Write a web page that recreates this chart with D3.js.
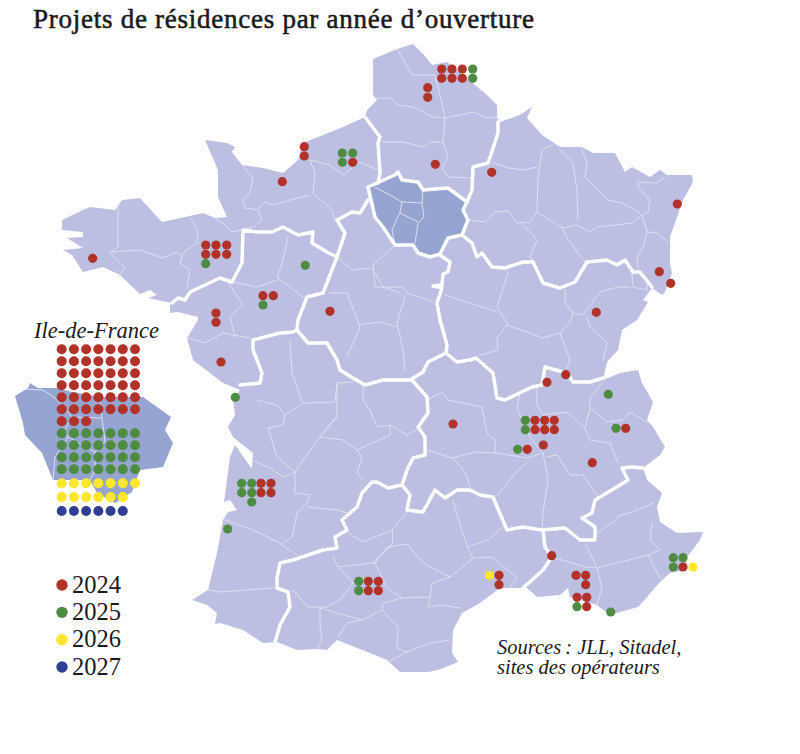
<!DOCTYPE html>
<html>
<head>
<meta charset="utf-8">
<script src="https://cdn.jsdelivr.net/npm/d3@7"></script>
<style>
body { margin: 0; background: #fff; }
text { fill: #1a1a1a; }
</style>
</head>
<body>
<script>
// Values. Map geometry and project points are in map units
var mapDomainX = [0, 800];
var mapDomainY = [0, 754];

var years = ['2024', '2025', '2026', '2027'];
var yearColors = ['#b13228', '#4e8c42', '#fde72e', '#2f3f96'];

// number of projects in Ile-de-France per year
var idfCounts = [45, 28, 13, 6];
var idfColumns = 7;

var points2024 = [[441.7,69],[452,69],[462.3,69],[441.7,78.3],[452,78.3],[462.3,78.3],[427.7,87.7],[427.7,97.3],[435.3,164.3],[491.7,172.3],[677.3,204],[659.3,271.7],[670.7,283.3],[596.3,312.3],[304.3,146.7],[304.3,156],[352.7,162.3],[282.3,181.7],[92.7,258.3],[205.7,245],[216,245],[226.7,245],[205.7,254.3],[216,254.3],[226.7,254.3],[263,295.7],[273.3,295.7],[216,313],[216,322.3],[330,311.3],[221,362],[261,483.3],[271,483.3],[261,492.7],[271,492.7],[368.3,581.3],[378.3,581.3],[368.3,590.7],[378.3,590.7],[453,424],[547,382.3],[565.7,374.7],[625.7,428.3],[535,420.3],[544.7,420.3],[554.3,420.3],[535,429.7],[544.7,429.7],[554.3,429.7],[543.3,445],[527.3,449.3],[592.3,462.7],[499,575.3],[499,584.7],[551.7,555.7],[576,575.3],[585.7,575.3],[585.7,584.7],[577,597.3],[586.7,597.3],[586.7,606.7],[683,567]];
var points2025 = [[472.7,69],[472.7,78.3],[342.3,153],[352.7,153],[342.3,162.3],[205.7,263.7],[305.3,265.3],[263,305],[235.3,397.3],[241.7,483.3],[251.7,483.3],[241.7,492.7],[251.7,492.7],[251.7,502],[227.7,529],[358.7,581.3],[358.7,590.7],[608.3,394.3],[616,428.3],[525.3,420.3],[525.3,429.7],[517.7,449.3],[577,606.7],[610.7,612],[673.3,557.7],[683,557.7],[673.3,567]];
var points2026 = [[489.3,575.3],[693,567]];

var franceOutline = [[373,59],[397,49],[413,44],[423,54],[432,65],[447,62],[475,85],[487,95],[497,105],[497,118],[500,122],[520,115],[532,107],[527,118],[542,135],[560,147],[582,147],[593,153],[615,153],[625,172],[632,167],[650,177],[660,170],[667,175],[692,175],[693,182],[683,200],[677,217],[670,237],[670,263],[672,273],[665,292],[662,295],[652,288],[643,300],[648,302],[637,320],[622,330],[618,350],[607,362],[603,380],[620,373],[638,370],[642,383],[653,402],[647,420],[653,427],[665,447],[660,455],[643,468],[647,480],[662,493],[657,507],[660,522],[677,533],[703,532],[700,540],[687,557],[685,570],[670,573],[660,582],[647,597],[638,607],[610,615],[597,605],[570,597],[568,588],[560,595],[537,597],[527,588],[500,588],[480,603],[462,613],[453,630],[452,653],[458,662],[438,670],[428,672],[400,672],[387,660],[370,653],[337,640],[327,650],[317,649],[297,650],[277,642],[263,643],[243,630],[220,623],[215,624],[217,613],[207,605],[192,600],[208,590],[217,553],[223,520],[228,512],[237,510],[230,500],[224,502],[230,457],[235,445],[252,469],[253,453],[233,437],[228,427],[235,415],[233,400],[240,390],[223,383],[193,360],[187,338],[198,320],[198,317],[178,312],[170,313],[170,305],[172,303],[148,298],[157,295],[150,290],[140,294],[120,275],[103,267],[83,272],[72,255],[63,250],[83,248],[67,238],[83,237],[83,232],[62,230],[62,220],[83,210],[90,207],[115,210],[122,200],[140,198],[162,222],[190,216],[203,213],[215,218],[227,217],[218,197],[218,170],[205,140],[227,143],[235,147],[232,152],[242,165],[263,168],[283,173],[298,160],[303,143],[343,127],[365,117],[367,110],[377,100],[373,95]];

var idfOutline = [[368,187],[395,175],[398,172],[402,180],[418,182],[423,190],[448,188],[467,202],[463,210],[468,220],[462,235],[448,238],[440,254],[430,257],[418,253],[413,245],[395,245],[383,227],[375,217]];

var regionBorders = [
  [[365,117],[380,137],[378,143],[380,173],[378,183]],
  [[498,122],[498,133],[488,163],[473,167],[472,190],[467,202]],
  [[462,235],[472,243],[477,257],[482,253],[492,267],[505,268],[523,262],[533,262],[543,283],[560,288],[575,282],[587,262],[607,260],[617,265],[625,260],[633,272],[640,272],[652,287]],
  [[440,255],[450,262],[448,272],[443,274],[442,285],[433,286],[442,288],[437,303],[440,320],[447,345],[446,353]],
  [[446,353],[457,362],[470,360],[476,358],[493,373],[497,398],[505,400],[532,387],[542,385],[545,367],[567,373],[573,382],[590,382],[603,378]],
  [[446,353],[428,362],[423,372],[410,380],[383,380],[365,385],[353,378],[340,370],[337,360],[327,343],[308,343],[297,330]],
  [[297,330],[298,320],[307,297],[323,293],[337,257],[327,252],[312,243],[313,232],[298,235],[283,227],[272,232],[258,232],[243,230],[242,263],[232,282],[220,278],[190,292],[185,300],[178,298],[172,303]],
  [[337,257],[345,233],[337,220],[352,212],[360,213],[368,200]],
  [[240,385],[260,383],[262,373],[253,350],[253,340],[280,333],[293,332],[297,330]],
  [[275,642],[280,625],[290,607],[288,592],[277,588],[277,578],[280,563],[293,560],[323,550],[337,548],[335,537],[347,530],[342,520],[357,507],[362,493],[372,482],[377,482],[388,488],[402,485],[410,495],[407,510]],
  [[402,485],[407,470],[413,458],[425,455],[425,437],[418,427],[428,413],[427,397],[412,380]],
  [[407,510],[423,512],[435,490],[445,498],[457,490],[470,490],[480,495],[493,497],[507,530],[523,527],[542,530],[565,528],[580,540],[595,540],[595,527],[582,518],[592,513],[595,500],[620,485],[628,480],[622,468],[632,467],[643,468]],
  [[543,530],[545,547],[552,557],[543,570],[523,588]]
];

var deptBorders = [
  [[397,49],[412,75],[435,75],[442,103],[445,118]],
  [[373,98],[390,98],[398,105],[413,107],[433,117],[445,118]],
  [[445,118],[473,112],[487,118],[497,117]],
  [[382,142],[403,142],[423,147],[430,142],[443,142]],
  [[445,118],[443,142],[448,158],[442,168],[448,177],[472,178]],
  [[492,162],[508,168],[523,170],[537,167]],
  [[552,145],[542,150],[538,177],[537,212]],
  [[560,150],[573,163],[577,190],[578,220]],
  [[582,150],[587,163],[585,177],[608,200],[622,203],[640,213]],
  [[638,182],[657,183],[665,177]],
  [[638,182],[638,187],[650,200],[648,212],[642,215]],
  [[562,228],[577,225],[590,232],[597,227],[632,223],[642,215],[647,232]],
  [[647,232],[657,233],[668,242]],
  [[647,232],[643,247],[637,257],[638,268]],
  [[632,273],[637,271],[647,282],[647,290],[633,287],[632,273]],
  [[467,220],[485,222],[495,212],[508,211],[517,223],[530,222],[537,212],[562,228],[567,238],[585,262]],
  [[523,225],[537,240],[530,257],[535,262]],
  [[445,295],[470,303],[497,312]],
  [[508,273],[497,307],[508,325]],
  [[565,290],[565,303],[573,313],[570,322],[560,333],[543,338],[527,332],[507,325],[497,338],[498,350],[480,355]],
  [[573,313],[583,315],[600,292],[618,287],[630,287]],
  [[587,318],[590,327],[607,343],[603,360]],
  [[560,333],[570,360],[567,368]],
  [[395,245],[373,265],[375,287],[403,287],[407,293],[433,302]],
  [[405,297],[397,323],[403,350],[405,370]],
  [[337,257],[352,270],[370,268],[375,273],[383,287],[400,293]],
  [[330,293],[347,293],[360,327],[347,357]],
  [[358,325],[380,322],[397,327]],
  [[118,207],[118,247],[110,253],[125,268],[118,277]],
  [[112,252],[140,250],[163,258],[177,252],[182,257]],
  [[190,218],[198,230],[197,243],[183,253],[180,263],[190,270],[187,287]],
  [[242,165],[253,178],[250,193],[242,200],[245,208],[258,210],[262,220],[253,227],[232,232],[225,225],[215,218]],
  [[258,210],[265,202],[273,205],[290,200],[310,195]],
  [[310,160],[315,173],[313,193],[332,210],[335,220]],
  [[310,160],[330,165],[343,175],[360,162],[378,170]],
  [[288,237],[283,260],[277,278],[290,287],[303,297]],
  [[233,282],[257,287],[277,280]],
  [[228,283],[243,305],[230,317],[235,337]],
  [[188,338],[205,343],[223,333],[250,338]],
  [[290,340],[292,373],[303,403]],
  [[257,400],[277,405],[285,415],[303,403],[335,402],[337,383],[353,382]],
  [[285,415],[283,425],[268,428],[277,457],[295,472]],
  [[335,418],[320,437],[308,453],[295,472]],
  [[252,460],[270,468],[283,477],[295,472]],
  [[295,472],[295,493],[310,495],[307,503],[297,513],[292,537],[283,543]],
  [[225,520],[253,530],[278,542],[297,555]],
  [[308,507],[337,510],[347,513]],
  [[320,437],[343,440],[357,450],[362,458],[357,473],[363,480]],
  [[363,385],[363,400],[370,410],[377,427],[390,425],[390,435],[357,450]],
  [[390,425],[407,435],[420,428]],
  [[337,383],[337,417],[320,437]],
  [[208,590],[220,592],[247,590],[273,588]],
  [[348,533],[363,542],[392,530],[393,543],[373,563]],
  [[333,557],[338,567],[373,563]],
  [[338,567],[353,583]],
  [[293,590],[308,607],[327,607],[340,600],[353,583]],
  [[375,563],[387,588],[402,598]],
  [[375,563],[387,547],[407,544],[423,563],[450,577]],
  [[392,530],[407,512]],
  [[402,598],[430,597],[432,583],[450,577]],
  [[382,610],[383,603],[402,598]],
  [[382,610],[362,620],[347,623],[338,637]],
  [[382,610],[398,627],[397,648],[407,652],[388,662]],
  [[407,652],[430,643],[450,640]],
  [[320,608],[320,627],[322,640],[317,649]],
  [[320,608],[362,620]],
  [[430,597],[428,607],[440,605],[460,608]],
  [[427,400],[442,392],[448,400],[482,407],[487,433],[495,440],[495,453]],
  [[428,450],[452,458],[475,452],[497,453],[527,458],[543,453]],
  [[452,458],[465,472],[470,487]],
  [[527,462],[515,473],[498,495]],
  [[543,453],[548,480],[543,513],[542,530]],
  [[547,457],[557,455],[570,475],[583,475],[598,497]],
  [[520,393],[517,408],[522,420],[530,437],[543,453]],
  [[537,405],[543,415],[567,412],[585,428],[590,440],[610,443],[618,463]],
  [[537,385],[537,405]],
  [[590,398],[590,408],[585,428]],
  [[590,408],[607,422],[623,420],[630,412],[647,422]],
  [[590,398],[603,382]],
  [[597,533],[612,523],[620,515],[633,512],[653,503]],
  [[552,557],[585,567],[597,568],[617,563],[648,555]],
  [[648,555],[660,550],[650,540],[652,523]],
  [[648,555],[660,578]],
  [[597,568],[602,588],[597,605]],
  [[585,543],[597,568]],
  [[467,547],[488,540],[503,527]],
  [[467,547],[473,558],[450,577]],
  [[473,558],[492,557],[517,578],[510,588]],
  [[453,500],[462,532],[467,545]],
  [[402,202],[388,194],[375,187]],
  [[402,202],[422,203]],
  [[423,190],[422,203],[424,217],[418,223],[415,243]],
  [[402,202],[400,212],[392,230],[395,245]],
  [[400,213],[418,222]]
];

var insetOutline = [[15,396],[28,388],[30,383],[38,388],[57,388],[72,392],[100,397],[143,397],[171,417],[165,430],[173,443],[163,467],[140,470],[132,492],[115,503],[97,493],[90,480],[53,480],[42,453],[25,435],[23,423]];
var insetLines = [
  [[25,389],[43,390],[55,398],[72,417],[102,418]],
  [[100,397],[102,418],[105,442]],
  [[72,417],[65,430],[68,437],[55,457],[53,480]],
  [[68,437],[95,452],[95,470],[90,480]],
  [[105,442],[95,452]]
];

var svgWidth = 800;
var svgHeight = 754;

var svg = d3.select('body')
    .append('svg')
    .attr('width', svgWidth)
    .attr('height', svgHeight)
    .style('display', 'block');

var xScale = d3.scaleLinear().domain(mapDomainX).range([0, svgWidth]);
var yScale = d3.scaleLinear().domain(mapDomainY).range([0, svgHeight]);

var line = d3.line().x(d => xScale(d[0])).y(d => yScale(d[1]));

var landColor = '#bcbfe1';
var idfColor = '#95a4d1';

// Title
svg.append('text')
    .attr('x', 33)
    .attr('y', 28)
    .attr('font-family', 'Liberation Serif')
    .attr('font-size', 27)
    .attr('stroke', '#1a1a1a')
    .attr('stroke-width', 0.55)
    .attr('textLength', 501)
    .text('Projets de résidences par année d’ouverture');

// Main map
var mapGroup = svg.append('g').attr('stroke-linejoin', 'round').attr('stroke-linecap', 'round');

mapGroup.append('path')
    .attr('d', line(franceOutline) + 'Z')
    .attr('fill', landColor);

mapGroup.append('path')
    .attr('d', line(idfOutline) + 'Z')
    .attr('fill', idfColor);

mapGroup.selectAll('.dept')
    .data(deptBorders)
    .enter()
    .append('path')
    .attr('class', 'dept')
    .attr('d', line)
    .attr('fill', 'none')
    .attr('stroke', '#dfe0f1')
    .attr('stroke-width', 1);

mapGroup.selectAll('.region')
    .data(regionBorders)
    .enter()
    .append('path')
    .attr('class', 'region')
    .attr('d', line)
    .attr('fill', 'none')
    .attr('stroke', '#fff')
    .attr('stroke-width', 3.5);

mapGroup.append('path')
    .attr('d', line(idfOutline) + 'Z')
    .attr('fill', 'none')
    .attr('stroke', '#fff')
    .attr('stroke-width', 3.5);

// Project points
var pointSeries = [points2024, points2025, points2026];
pointSeries.forEach(function(points, i) {
    svg.append('g')
        .selectAll('circle')
        .data(points)
        .enter()
        .append('circle')
        .attr('cx', d => xScale(d[0]))
        .attr('cy', d => yScale(d[1]))
        .attr('r', 4.6)
        .attr('fill', yearColors[i]);
});

// Ile-de-France inset
svg.append('text')
    .attr('x', 34)
    .attr('y', 338)
    .attr('font-family', 'Liberation Serif')
    .attr('font-style', 'italic')
    .attr('font-size', 22.5)
    .text('Ile-de-France');

svg.append('path')
    .attr('d', line(insetOutline) + 'Z')
    .attr('fill', idfColor);

svg.selectAll('.insetLine')
    .data(insetLines)
    .enter()
    .append('path')
    .attr('class', 'insetLine')
    .attr('d', line)
    .attr('fill', 'none')
    .attr('stroke', '#dfe0f1')
    .attr('stroke-width', 1);

var colScale = d3.scaleLinear().domain([0, idfColumns - 1]).range([61.7, 135]);
var rowScale = d3.scaleLinear().domain([0, 10, 13]).range([349.3, 469.3, 511]);

var idfDots = [];
var index = 0;
idfCounts.forEach(function(count, i) {
    for (var k = 0; k < count; k++) {
        idfDots.push({
            year: i,
            col: k % idfColumns,
            row: Math.floor(index / idfColumns) + Math.floor(k / idfColumns)
        });
    }
    index += Math.ceil(count / idfColumns) * idfColumns;
});

svg.append('g')
    .selectAll('circle')
    .data(idfDots)
    .enter()
    .append('circle')
    .attr('cx', d => colScale(d.col))
    .attr('cy', d => rowScale(d.row))
    .attr('r', 5)
    .attr('fill', d => yearColors[d.year]);

// Legend
var legendScale = d3.scalePoint().domain(years).range([585, 667]);
var legend = svg.append('g')
    .selectAll('g')
    .data(years)
    .enter()
    .append('g')
    .attr('transform', d => `translate(0,${legendScale(d)})`);

legend.append('circle')
    .attr('cx', 62)
    .attr('cy', 0)
    .attr('r', 5.7)
    .attr('fill', (d, i) => yearColors[i]);

legend.append('text')
    .attr('x', 72)
    .attr('y', 7.5)
    .attr('font-family', 'Liberation Serif')
    .attr('font-size', 24.5)
    .text(d => d);

// Sources
var sourceLines = ['Sources\u202f: JLL, Sitadel,', 'sites des opérateurs'];
svg.selectAll('.source')
    .data(sourceLines)
    .enter()
    .append('text')
    .attr('class', 'source')
    .attr('x', 497)
    .attr('y', (d, i) => 654 + i * 20)
    .attr('font-family', 'Liberation Serif')
    .attr('font-style', 'italic')
    .attr('font-size', 20.5)
    .text(d => d);
</script>
</body>
</html>
